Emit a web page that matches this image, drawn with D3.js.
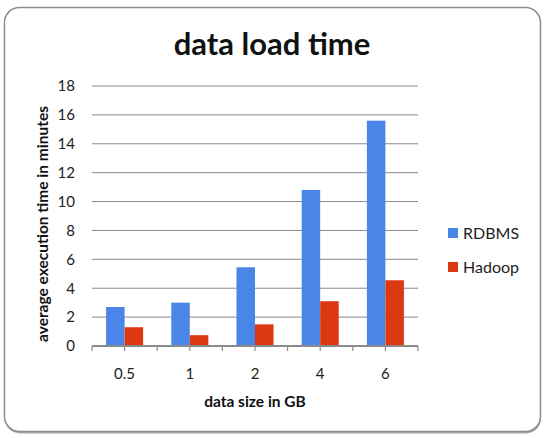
<!DOCTYPE html>
<html>
<head>
<meta charset="utf-8">
<script src="https://cdn.jsdelivr.net/npm/d3@7"></script>
<style>
  body { margin: 0; background: #fff; }
  text { font-family: Lato, "Open Sans", sans-serif; }
</style>
</head>
<body>
<script>
// chart data
var categories = ["0.5", "1", "2", "4", "6"];
var seriesNames = ["RDBMS", "Hadoop"];
var rdbms = [2.7, 3.0, 5.45, 10.8, 15.6];
var hadoop = [1.3, 0.75, 1.5, 3.1, 4.55];
var yTicks = [0, 2, 4, 6, 8, 10, 12, 14, 16, 18];
var colors = ["#4a86e8", "#dc3912"];

var W = 549, H = 438;
var plot = { left: 92, right: 418, top: 86, bottom: 346 };

var svg = d3.select("body").append("svg")
    .attr("width", W)
    .attr("height", H);

// rounded frame with a light shadow at the bottom
svg.append("rect")
    .attr("x", 5).attr("y", 8.5)
    .attr("width", 536).attr("height", 425)
    .attr("rx", 15).attr("ry", 15)
    .attr("fill", "#aaa");
svg.append("rect")
    .attr("x", 4.5).attr("y", 7.5)
    .attr("width", 536).attr("height", 424)
    .attr("rx", 15).attr("ry", 15)
    .attr("fill", "#fff")
    .attr("stroke", "#8c8c8c")
    .attr("stroke-width", 1.5);

svg.append("text")
    .attr("x", 272).attr("y", 55)
    .attr("text-anchor", "middle")
    .attr("font-size", 31)
    .attr("font-weight", "bold")
    .attr("fill", "#111")
    .text("data load time");

var x = d3.scaleBand()
    .domain(categories)
    .range([plot.left, plot.right]);

var xs = d3.scaleBand()
    .domain(seriesNames)
    .range([0, x.bandwidth()])
    .paddingInner(0)
    .paddingOuter(0.76);

var y = d3.scaleLinear()
    .domain([0, 18])
    .range([plot.bottom, plot.top]);

// gridlines
svg.append("g")
    .selectAll("line")
    .data(yTicks.slice(1))
    .enter()
    .append("line")
    .attr("x1", plot.left).attr("x2", plot.right)
    .attr("y1", function (d) { return y(d); })
    .attr("y2", function (d) { return y(d); })
    .attr("stroke", "#8a8a8a")
    .attr("stroke-width", 1);

// y axis labels
var yAxis = svg.append("g")
    .attr("transform", "translate(" + plot.left + ",0)")
    .call(d3.axisLeft(y).tickValues(yTicks).tickSize(0).tickPadding(17));
yAxis.select(".domain").remove();
yAxis.selectAll("text")
    .attr("font-size", 15)
    .attr("fill", "#222")
    .style("font-family", "Lato, 'Open Sans', sans-serif");

// bars
var rows = categories.map(function (c, i) {
    return { cat: c, values: [rdbms[i], hadoop[i]] };
});

var groups = svg.append("g")
    .selectAll("g")
    .data(rows)
    .enter()
    .append("g")
    .attr("transform", function (d) { return "translate(" + x(d.cat) + ",0)"; });

groups.selectAll("rect")
    .data(function (d) {
        return d.values.map(function (v, j) { return { name: seriesNames[j], value: v, idx: j }; });
    })
    .enter()
    .append("rect")
    .attr("x", function (d) { return xs(d.name); })
    .attr("width", xs.bandwidth())
    .attr("y", function (d) { return y(d.value); })
    .attr("height", function (d) { return y(0) - y(d.value); })
    .attr("fill", function (d) { return colors[d.idx]; });

// x axis line and ticks (boundaries plus category centres)
var tickPos = [];
categories.forEach(function (c) {
    tickPos.push(x(c));
    tickPos.push(x(c) + x.bandwidth() / 2);
});
tickPos.push(plot.right);

svg.append("line")
    .attr("x1", plot.left).attr("x2", plot.right)
    .attr("y1", y(0)).attr("y2", y(0))
    .attr("stroke", "#8a8a8a")
    .attr("stroke-width", 2);

svg.append("g")
    .selectAll("line")
    .data(tickPos)
    .enter()
    .append("line")
    .attr("x1", function (d) { return d; })
    .attr("x2", function (d) { return d; })
    .attr("y1", y(0)).attr("y2", y(0) + 5)
    .attr("stroke", "#8a8a8a")
    .attr("stroke-width", 1.2);

svg.append("g")
    .selectAll("text")
    .data(categories)
    .enter()
    .append("text")
    .attr("x", function (d) { return x(d) + x.bandwidth() / 2; })
    .attr("y", 379)
    .attr("text-anchor", "middle")
    .attr("font-size", 15)
    .attr("fill", "#222")
    .text(function (d) { return d; });

// axis titles
svg.append("text")
    .attr("x", 255).attr("y", 407)
    .attr("text-anchor", "middle")
    .attr("font-size", 15.5)
    .attr("font-weight", "bold")
    .attr("fill", "#111")
    .text("data size in GB");

svg.append("text")
    .attr("transform", "translate(48,224) rotate(-90)")
    .attr("text-anchor", "middle")
    .attr("font-size", 15.5)
    .attr("font-weight", "bold")
    .attr("fill", "#111")
    .text("average execution time in minutes");

// legend
var legend = svg.append("g")
    .selectAll("g")
    .data(seriesNames)
    .enter()
    .append("g")
    .attr("transform", function (d, i) { return "translate(448," + (228 + i * 34) + ")"; });

legend.append("rect")
    .attr("width", 10).attr("height", 10)
    .attr("fill", function (d, i) { return colors[i]; });

legend.append("text")
    .attr("x", 15).attr("y", 10.5)
    .attr("font-size", 16)
    .attr("fill", "#222")
    .text(function (d) { return d; });
</script>
</body>
</html>
